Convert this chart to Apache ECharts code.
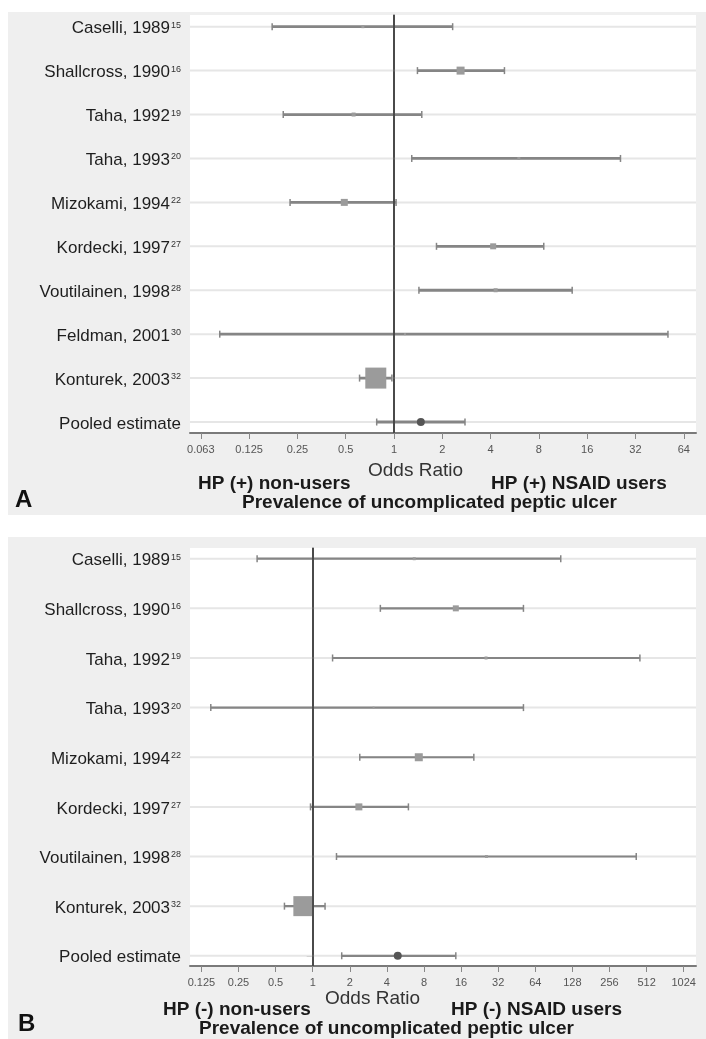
<!DOCTYPE html>
<html><head><meta charset="utf-8">
<script src="https://cdn.jsdelivr.net/npm/echarts@6/dist/echarts.min.js"></script>
<style>
html,body{margin:0;padding:0;background:#fff;}
#wrap{position:relative;width:706px;height:1039px;}
.panel{position:absolute;background:#efefef;}
#c{position:absolute;left:0;top:0;width:706px;height:1039px;}
</style>
</head><body>
<div id="wrap">
<div class="panel" style="left:8px;top:12px;width:698px;height:503px;"></div>
<div class="panel" style="left:8px;top:537px;width:698px;height:502px;"></div>
<div id="c"></div>
</div>
<script>
// ---------- Panel A data ----------
const studiesA = ['Caselli, 1989','Shallcross, 1990','Taha, 1992','Taha, 1993','Mizokami, 1994','Kordecki, 1997','Voutilainen, 1998','Feldman, 2001','Konturek, 2003','Pooled estimate'];
const refsA    = ['15','16','19','20','22','27','28','30','32',''];
const orA      = [0.64, 2.6, 0.56, 6.0, 0.49, 4.15, 4.3, 1.17, 0.77, 1.47];
const lowerA   = [0.174, 1.40, 0.204, 1.29, 0.225, 1.84, 1.43, 0.082, 0.61, 0.78];
const upperA   = [2.32, 4.88, 1.49, 25.8, 1.03, 8.58, 12.9, 51, 0.97, 2.77];
const ticksA   = ['0.063','0.125','0.25','0.5','1','2','4','8','16','32','64'];
const tickExpA = [-4,-3,-2,-1,0,1,2,3,4,5,6];

// ---------- Panel B data ----------
const studiesB = ['Caselli, 1989','Shallcross, 1990','Taha, 1992','Taha, 1993','Mizokami, 1994','Kordecki, 1997','Voutilainen, 1998','Konturek, 2003','Pooled estimate'];
const refsB    = ['15','16','19','20','22','27','28','32',''];
const orB      = [6.67, 14.5, 25.5, 3.12, 7.26, 2.37, 25.7, 0.84, 4.9];
const lowerB   = [0.354, 3.54, 1.45, 0.149, 2.41, 0.96, 1.56, 0.59, 1.72];
const upperB   = [103, 51.3, 452, 51.3, 20.3, 5.98, 422, 1.26, 14.5];
const ticksB   = ['0.125','0.25','0.5','1','2','4','8','16','32','64','128','256','512','1024'];
const tickExpB = [-3,-2,-1,0,1,2,3,4,5,6,7,8,9,10];

// ---------- styles ----------
const sizeA = [3,8,4,3,7,6,4,2,21,8];
const sizeB = [3,6,3,2,8,7,3,20,8];
const FONT = 'Liberation Sans, Arial, sans-serif';

const chart = echarts.init(document.getElementById('c'), null, {renderer:'canvas'});

function ciRender(lw) {
  return function (params, api) {
    const y = api.value(3);
    const p1 = api.coord([api.value(0), y]);
    const p2 = api.coord([api.value(1), y]);
    const cs = params.coordSys;
    const c = 3.5, col = '#858585';
    return {type:'group', children:[
      {type:'line', shape:{x1:cs.x, y1:p1[1], x2:cs.x+cs.width, y2:p1[1]}, style:{stroke:'#e6e6e6', lineWidth:2}},
      {type:'line', shape:{x1:p1[0], y1:p1[1], x2:p2[0], y2:p2[1]}, style:{stroke:col, lineWidth:lw}},
      {type:'line', shape:{x1:p1[0], y1:p1[1]-c, x2:p1[0], y2:p1[1]+c}, style:{stroke:col, lineWidth:1.5}},
      {type:'line', shape:{x1:p2[0], y1:p2[1]-c, x2:p2[0], y2:p2[1]+c}, style:{stroke:col, lineWidth:1.5}}
    ]};
  };
}

function yAxisFor(idx, studies, refs, min, max) {
  const vals = studies.map((s, i) => i);
  return {
    type:'value', gridIndex: idx, inverse: true, min: min, max: max,
    axisLine:{show:true, lineStyle:{color:'#666', width:1.5}},
    axisTick:{show:true, customValues: vals, length:6, lineStyle:{color:'#999', width:1}},
    splitLine:{show:false},
    axisLabel:{
      customValues: vals, margin: 9,
      formatter: v => { const i = Math.round(v); return refs[i] ? '{n|' + studies[i] + '}{s|' + refs[i] + '}' : '{n|' + studies[i] + '}'; },
      rich:{
        n:{fontSize:17, color:'#1e1e1e', fontFamily:FONT, lineHeight:20, padding:[4,0,0,0]},
        s:{fontSize:9, color:'#333', fontFamily:FONT, verticalAlign:'top', lineHeight:10, padding:[4,0,0,1]}
      }
    }
  };
}

function xAxisFor(idx, ticks, exps, min, max) {
  return {
    type:'value', gridIndex: idx, min: min, max: max,
    axisLine:{show:true, onZero:false, lineStyle:{color:'#7a7a7a', width:2}},
    axisTick:{show:true, customValues: exps, length:6, lineStyle:{color:'#888', width:1}},
    splitLine:{show:false},
    axisLabel:{customValues: exps, margin: 11, fontSize: 11, color:'#555', fontFamily:FONT,
      formatter: v => ticks[exps.indexOf(Math.round(v))]}
  };
}

function seriesFor(idx, orv, lo, hi, sizes, lw) {
  const n = orv.length;
  const ci = orv.map((v, i) => [Math.log2(lo[i]), Math.log2(hi[i]), Math.log2(v), i]);
  const pts = [], pooled = [];
  orv.forEach((v, i) => {
    if (i === n - 1) pooled.push({value:[Math.log2(v), i], symbolSize: sizes[i]});
    else pts.push({value:[Math.log2(v), i], symbolSize: sizes[i]});
  });
  return [
    {type:'custom', xAxisIndex: idx, yAxisIndex: idx, renderItem: ciRender(lw), data: ci, z: 2, silent: true,
      markLine:{silent:true, symbol:'none', label:{show:false}, animation:false,
        lineStyle:{color:'#3a3a3a', width:1.6, type:'solid'}, data:[{xAxis:0}]}},
    {type:'scatter', xAxisIndex: idx, yAxisIndex: idx, symbol:'rect', data: pts, z: 4,
      itemStyle:{color:'#9b9b9b', opacity:1}},
    {type:'scatter', xAxisIndex: idx, yAxisIndex: idx, symbol:'circle', data: pooled, z: 5,
      itemStyle:{color:'#555', opacity:1}}
  ];
}

function txt(x, y, text, size, weight, color, align) {
  return {type:'text', x: x, y: y, style:{text: text, fontSize: size, fontWeight: weight, fill: color,
    fontFamily: FONT, textAlign: align || 'left', textVerticalAlign:'middle'}};
}

const option = {
  animation: false,
  backgroundColor: 'transparent',
  grid: [
    {left:190, top:15, width:506, height:418, show:true, backgroundColor:'#fff', borderWidth:0},
    {left:190, top:548, width:506, height:418, show:true, backgroundColor:'#fff', borderWidth:0}
  ],
  xAxis: [
    xAxisFor(0, ticksA, tickExpA, -4.224, 6.253),
    xAxisFor(1, ticksB, tickExpB, -3.307, 10.332)
  ],
  yAxis: [
    yAxisFor(0, studiesA, refsA, -0.266, 9.25),
    yAxisFor(1, studiesB, refsB, -0.216, 8.206)
  ],
  series: [].concat(
    seriesFor(0, orA, lowerA, upperA, sizeA, 2.8),
    seriesFor(1, orB, lowerB, upperB, sizeB, 2.2)
  ),
  graphic: [
    txt(368, 471, 'Odds Ratio', 19, 'normal', '#333'),
    txt(198, 484, 'HP (+) non-users', 19, 'bold', '#1a1a1a'),
    txt(491, 484, 'HP (+) NSAID users', 19, 'bold', '#1a1a1a'),
    txt(242, 503, 'Prevalence of uncomplicated peptic ulcer', 19, 'bold', '#1a1a1a'),
    txt(15, 500, 'A', 24, 'bold', '#111'),
    txt(325, 999, 'Odds Ratio', 19, 'normal', '#333'),
    txt(163, 1010, 'HP (-) non-users', 19, 'bold', '#1a1a1a'),
    txt(451, 1010, 'HP (-) NSAID users', 19, 'bold', '#1a1a1a'),
    txt(199, 1029, 'Prevalence of uncomplicated peptic ulcer', 19, 'bold', '#1a1a1a'),
    txt(18, 1024, 'B', 24, 'bold', '#111')
  ]
};
chart.setOption(option);
</script>
</body></html>
